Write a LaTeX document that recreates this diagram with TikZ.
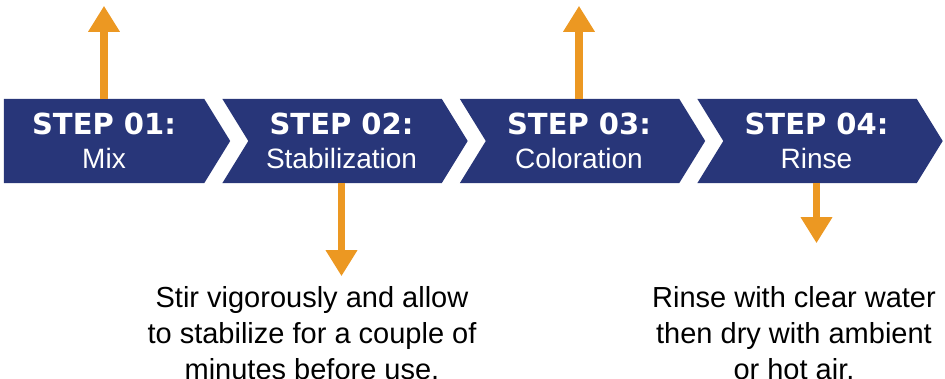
\documentclass[tikz,border=0pt]{standalone}
\usepackage{fontspec}
\setmainfont{Liberation Sans}
\newfontfamily\stepfont{DejaVu Sans}
\usetikzlibrary{arrows.meta,backgrounds}
\definecolor{stepblue}{RGB}{40,54,121}
\definecolor{steporange}{RGB}{236,152,34}
\tikzset{
  stepbox/.style={minimum width=200pt,minimum height=84pt,inner sep=0pt,
    text=white,align=center,font=\fontsize{28}{34}\selectfont},
  chevron/.style={fill=stepblue},
  pointer/.style={draw=steporange,line width=7.5pt,-{Triangle[width=30pt,length=26pt]}},
  note/.style={align=center,inner sep=0pt,font=\fontsize{29}{36}\selectfont}
}
\newcommand{\steplabel}[1]{{\stepfont\bfseries\fontsize{29}{34}\selectfont #1}}
\begin{document}
\begin{tikzpicture}[x=1pt,y=1pt]
  \useasboundingbox (0,0) rectangle (945,-378);
  \node[stepbox] (s1) at (104,-141) {\steplabel{STEP 01:}\\Mix};
  \node[stepbox] (s2) at (341.5,-141) {\steplabel{STEP 02:}\\Stabilization};
  \node[stepbox] (s3) at (579,-141) {\steplabel{STEP 03:}\\Coloration};
  \node[stepbox] (s4) at (816.5,-141) {\steplabel{STEP 04:}\\Rinse};
  \begin{scope}[on background layer]
    \fill[chevron] (s1.north west) -- (s1.north east) -- ([xshift=26pt]s1.east)
      -- (s1.south east) -- (s1.south west) -- cycle;
    \foreach \s in {s2,s3,s4}
      \fill[chevron] ([xshift=-19pt]\s.north west) -- (\s.north east) -- ([xshift=26pt]\s.east)
        -- (\s.south east) -- ([xshift=-19pt]\s.south west) -- ([xshift=7pt]\s.west) -- cycle;
  \end{scope}
  \node[note,anchor=north] (n2) at (312,-286) {Stir vigorously and allow\\to stabilize for a couple of\\minutes before use.};
  \node[note,anchor=north] (n4) at (794,-286) {Rinse with clear water\\then dry with ambient\\or hot air.};
  \coordinate (up1) at ([yshift=93pt]s1.north);
  \coordinate (up3) at ([yshift=93pt]s3.north);
  \coordinate (down2) at ([yshift=-93pt]s2.south);
  \coordinate (down4) at ([yshift=-60pt]s4.south);
  \draw[pointer] (s1.north) -- (up1);
  \draw[pointer] (s3.north) -- (up3);
  \draw[pointer] (s2.south) -- (down2);
  \draw[pointer] (s4.south) -- (down4);
\end{tikzpicture}
\end{document}
